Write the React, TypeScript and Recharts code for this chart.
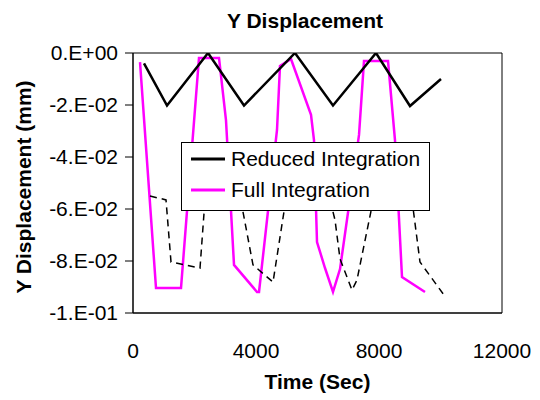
import React from 'react';
import { LineChart, Line, XAxis, YAxis, Legend, ReferenceArea } from 'recharts';

const FONT = '"Liberation Sans", Arial, sans-serif';

const chartTitle = 'Y Displacement';
const xTitle = 'Time (Sec)';
const yTitle = 'Y Displacement (mm)';

const xTicks = [0, 4000, 8000, 12000];
const yTicks = [0, -0.02, -0.04, -0.06, -0.08, -0.1];

const legendOrder = ['Reduced Integration', 'Full Integration'];

// Reduced Integration (black solid)
const reducedTime = [358, 1106, 2440, 3610, 5268, 6504, 7902, 9008, 10016];
const reducedDisp = [-0.004, -0.0202, 0, -0.0202, 0, -0.0202, 0, -0.0204, -0.010];

// Full Integration (magenta)
const fullTime = [228, 748, 1561, 2146, 2797, 3024, 3285, 4032, 4098, 4683, 4780, 5138, 5789, 5886, 5984, 6244, 6504, 6732, 7350, 7512, 8293, 8520, 8748, 9496];
const fullDisp = [-0.0035, -0.0904, -0.0904, -0.0019, -0.0019, -0.0258, -0.0815, -0.0919, -0.0919, -0.0296, -0.005, -0.0023, -0.0238, -0.0335, -0.0727, -0.0827, -0.0919, -0.0831, -0.0315, -0.0031, -0.0031, -0.0335, -0.0862, -0.0919];

// Third series (black dashed)
const dashedTime = [553, 1073, 1236, 2179, 2341, 3480, 3902, 4553, 4943, 6406, 6569, 6732, 7122, 7284, 7740, 9073, 9333, 10114];
const dashedDisp = [-0.055, -0.0565, -0.0804, -0.0827, -0.0565, -0.055, -0.0815, -0.0881, -0.0585, -0.0565, -0.0642, -0.0792, -0.0912, -0.0873, -0.0608, -0.0565, -0.0804, -0.0931];

const toRows = (ts: number[], vs: number[]) => ts.map((t, i) => ({ t, v: vs[i] }));
const reducedData = toRows(reducedTime, reducedDisp);
const fullData = toRows(fullTime, fullDisp);
const dashedData = toRows(dashedTime, dashedDisp);

const fmtY = (v: number) => {
  if (Math.abs(v) < 1e-12) return '0.E+00';
  const e = Math.floor(Math.log10(Math.abs(v)) + 1e-9);
  const m = Math.round(v / Math.pow(10, e));
  const es = (e < 0 ? '-' : '+') + String(Math.abs(e)).padStart(2, '0');
  return `${m}.E${es}`;
};

const LegendContent = (props: any) => {
  const items = (props.payload || [])
    .filter((p: any) => p.type !== 'none')
    .slice()
    .sort((a: any, b: any) => legendOrder.indexOf(a.value) - legendOrder.indexOf(b.value));
  return (
    <div style={{ width: 249, height: 69, boxSizing: 'border-box', border: '1px solid #000', background: '#fff', position: 'relative' }}>
      <svg width={249} height={69} style={{ position: 'absolute', left: -1, top: -1 }}>
        {items.map((it: any, i: number) => (
          <g key={i}>
            <line x1={10} x2={44} y1={17 + i * 31} y2={17 + i * 31} stroke={it.color} strokeWidth={3} />
            <text x={50} y={24 + i * 31} fontFamily={FONT} fontSize={21} fill="#000">{it.value}</text>
          </g>
        ))}
      </svg>
    </div>
  );
};

const XLabel = (props: any) => {
  const vb = props.viewBox || { x: 133, width: 369 };
  return (
    <text x={vb.x + vb.width / 2} y={389} textAnchor="middle" fontFamily={FONT} fontSize={21} fontWeight="bold" fill="#000">{xTitle}</text>
  );
};

const YLabel = (props: any) => {
  const vb = props.viewBox || { y: 53, height: 260 };
  const cy = vb.y + vb.height / 2 + 4;
  return (
    <text x={31} y={cy} transform={`rotate(-90, 31, ${cy})`} textAnchor="middle" fontFamily={FONT} fontSize={21} fontWeight="bold" fill="#000">{yTitle}</text>
  );
};

export default function App() {
  return (
    <div style={{ position: 'absolute', left: 0, top: 0, width: 540, height: 400, background: '#fff' }}>
      <LineChart width={540} height={400} margin={{ top: 53, right: 38, bottom: 0, left: 0 }}>
        <XAxis
          type="number"
          dataKey="t"
          domain={[0, 12000]}
          ticks={xTicks}
          allowDataOverflow
          height={87}
          tickLine={false}
          tickSize={6}
          tickMargin={24}
          axisLine={{ stroke: '#000', strokeWidth: 1 }}
          tick={{ fontSize: 21, fill: '#000', fontFamily: FONT }}
          label={XLabel}
        />
        <YAxis
          type="number"
          dataKey="v"
          domain={[-0.1, 0]}
          ticks={yTicks}
          allowDataOverflow
          width={133}
          tickSize={8}
          tickMargin={7}
          tickFormatter={fmtY}
          axisLine={{ stroke: '#000', strokeWidth: 1 }}
          tickLine={{ stroke: '#000', strokeWidth: 1 }}
          tick={{ fontSize: 21, fill: '#000', fontFamily: FONT }}
          label={YLabel}
        />
        <ReferenceArea x1={0} x2={12000} y1={-0.1} y2={0} fill="none" stroke="#000" strokeWidth={1} ifOverflow="visible" />
        <Line data={fullData} dataKey="v" name="Full Integration" type="linear" stroke="#FF00FF" strokeWidth={2.5} dot={false} isAnimationActive={false} />
        <Line data={dashedData} dataKey="v" name="Incompatible Modes" type="linear" stroke="#000" strokeWidth={1.5} strokeDasharray="7 5" dot={false} legendType="none" isAnimationActive={false} />
        <Line data={reducedData} dataKey="v" name="Reduced Integration" type="linear" stroke="#000" strokeWidth={2.5} dot={false} isAnimationActive={false} />
        <Legend
          layout="horizontal"
          verticalAlign="middle"
          align="center"
          content={LegendContent}
          wrapperStyle={{ position: 'absolute', left: 181, top: 142, width: 249, height: 69 }}
        />
      </LineChart>
      <svg width={540} height={40} style={{ position: 'absolute', left: 0, top: 0 }}>
        <text x={305} y={28} textAnchor="middle" fontFamily={FONT} fontSize={21} fontWeight="bold" fill="#000">{chartTitle}</text>
      </svg>
    </div>
  );
}
